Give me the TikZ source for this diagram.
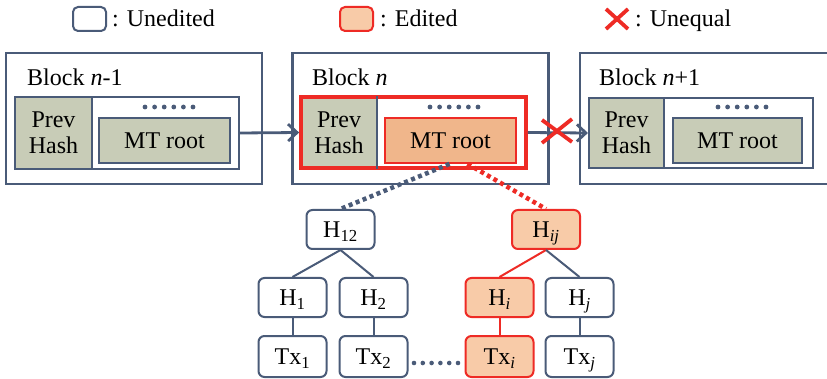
\documentclass[tikz,border=0pt]{standalone}
\usepackage{fontspec}
\setmainfont{Liberation Serif}
\usetikzlibrary{arrows.meta,calc}
\definecolor{bd}{HTML}{4A5B78}
\definecolor{gg}{HTML}{C8CCB7}
\definecolor{rd}{HTML}{EE2B25}
\definecolor{org}{HTML}{F0B68B}
\definecolor{pch}{HTML}{F8CBA8}
\begin{document}
\begin{tikzpicture}[x=1pt,y=-1pt,font=\fontsize{24}{26}\selectfont,
  outerbox/.style={draw=bd,line width=2.4pt,minimum width=256pt,minimum height=131pt,inner sep=0pt},
  innerbox/.style={draw=bd,line width=2.2pt,minimum width=224pt,minimum height=72pt,inner sep=0pt},
  phbox/.style={fill=gg,minimum width=77pt,minimum height=72pt,inner sep=0pt,align=center},
  mtbox/.style={fill=gg,draw=bd,line width=2.2pt,minimum width=131pt,minimum height=45pt,inner sep=0pt},
  mtedit/.style={fill=org,draw=rd,line width=1.8pt,minimum width=131pt,minimum height=45pt,inner sep=0pt},
  tnode/.style={draw=bd,line width=2pt,rounded corners=6pt,minimum width=68pt,minimum height=39pt,inner sep=0pt,text height=16pt,text depth=0pt},
  tedit/.style={tnode,fill=pch,draw=rd},
  tedge/.style={draw=bd,line width=2pt},
  redge/.style={draw=rd,line width=2pt},
  link/.style={draw=bd,line width=2.8pt,-{Straight Barb[length=9pt,width=17pt]}},
  dotlink/.style={line width=4.5pt,dash pattern=on 4pt off 3.5pt}]
\clip (0,0) rectangle (827,379);
\fill[white] (0,0) rectangle (827,379);

% legend
\node[draw=bd,line width=2pt,rounded corners=5pt,minimum width=33pt,minimum height=24pt,inner sep=0pt] (lgU) at (89.5,19) {};
\node[anchor=base west,inner sep=0pt] (lgUt) at (112,27) {: Unedited};
\node[draw=rd,fill=pch,line width=2pt,rounded corners=5pt,minimum width=33pt,minimum height=24pt,inner sep=0pt] (lgE) at (356.5,19) {};
\node[anchor=base west,inner sep=0pt] (lgEt) at (380,27) {: Edited};
\coordinate (lgX) at (617,19);
\draw[rd,line width=3.8pt] ($(lgX)+(-11,-10)$) -- ($(lgX)+(11,10)$) ($(lgX)+(11,-10)$) -- ($(lgX)+(-11,10)$);
\node[anchor=base west,inner sep=0pt] (lgXt) at (635,27) {: Unequal};

% blocks
\node[outerbox] (bA) at (134,118.5) {};
\node[outerbox] (bB) at (420.5,118.5) {};
\node[outerbox] (bC) at (708,118.5) {};
\node[anchor=base west,inner sep=0pt] (tA) at (27,86) {Block \textit{n}-1};
\node[anchor=base west,inner sep=0pt] (tB) at (312,86) {Block \textit{n}};
\node[anchor=base west,inner sep=0pt] (tC) at (599,86) {Block \textit{n}+1};

% block n-1
\node[phbox] (phA) at (53.5,133) {Prev\\Hash};
\node[innerbox] (inA) at (127,133) {};
\draw[bd,line width=2.2pt] (phA.north east) -- (phA.south east);
\node[mtbox] (mtA) at (164.5,140.5) {MT root};
\foreach \i in {0,...,5} \fill[bd] (145+9.6*\i,107) circle (2.4pt);

% block n
\node[phbox,minimum width=76pt] (phB) at (339,132.5) {Prev\\Hash};
\node[draw=rd,line width=3.8pt,minimum width=225pt,minimum height=71pt,inner sep=0pt] (inB) at (413.5,132.5) {};
\draw[bd,line width=2.2pt] (phB.north east) -- (phB.south east);
\node[mtedit] (mtB) at (450.5,140.5) {MT root};
\foreach \i in {0,...,5} \fill[bd] (430+9.6*\i,107) circle (2.4pt);

% block n+1
\node[phbox,minimum width=75pt,minimum height=70pt] (phC) at (626.5,133) {Prev\\Hash};
\node[innerbox,minimum width=224pt,minimum height=70pt] (inC) at (701,133) {};
\draw[bd,line width=2.2pt] (phC.north east) -- (phC.south east);
\node[mtbox,minimum width=129pt] (mtC) at (737.5,140.5) {MT root};
\foreach \i in {0,...,5} \fill[bd] (718+9.6*\i,107) circle (2.4pt);

% chain arrows
\draw[link] (inA.east) -- (inB.west);
\draw[link] (inB.east) -- (inC.west);
\coordinate (neq) at (557,131);
\draw[rd,line width=3.8pt] ($(neq)+(-15,-11)$) -- ($(neq)+(15,11)$) ($(neq)+(15,-12)$) -- ($(neq)+(-15,12)$);

% tree
\node[tnode] (H12) at (340.5,229.5) {H\textsubscript{12}};
\node[tedit] (Hij) at (546,229.5) {H\textsubscript{\textit{ij}}};
\node[tnode] (H1) at (292.5,297.5) {H\textsubscript{1}};
\node[tnode] (H2) at (373.5,297.5) {H\textsubscript{2}};
\node[tedit] (Hi) at (499.5,297.5) {H\textsubscript{\textit{i}}};
\node[tnode] (Hj) at (579.5,297.5) {H\textsubscript{\textit{j}}};
\node[tnode,minimum height=41pt] (T1) at (292.5,356.5) {Tx\textsubscript{1}};
\node[tnode,minimum height=41pt] (T2) at (373.5,356.5) {Tx\textsubscript{2}};
\node[tedit,minimum height=41pt] (Ti) at (499.5,356.5) {Tx\textsubscript{\textit{i}}};
\node[tnode,minimum height=41pt] (Tj) at (579.5,356.5) {Tx\textsubscript{\textit{j}}};

\draw[tedge] (H12.south) -- (H1.north);
\draw[tedge] (H12.south) -- (H2.north);
\draw[redge] (Hij.south) -- (Hi.north);
\draw[tedge] (Hij.south) -- (Hj.north);
\draw[tedge] (H1) -- (T1);
\draw[tedge] (H2) -- (T2);
\draw[redge] (Hi) -- (Ti);
\draw[tedge] (Hj) -- (Tj);
\foreach \i in {0,...,5} \fill[bd] (414+8.8*\i,363) circle (2.3pt);

% dotted links from MT root
\draw[dotlink,bd] ($(mtB.south)+(-1,0)$) -- (H12.north);
\draw[dotlink,rd] ($(mtB.south)+(17,0)$) -- (Hij.north);
\end{tikzpicture}
\end{document}
